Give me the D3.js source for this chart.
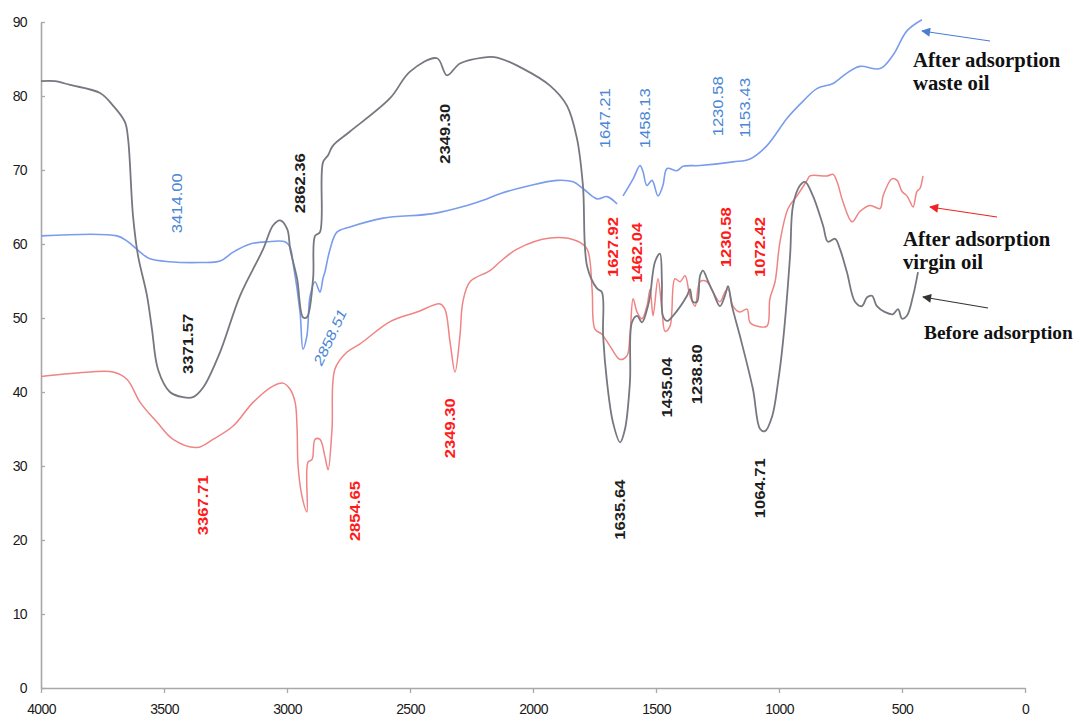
<!DOCTYPE html>
<html>
<head>
<meta charset="utf-8">
<script src="https://cdn.jsdelivr.net/npm/d3@7"></script>
<style>
  html, body { margin: 0; padding: 0; background: #fff; }
  svg { display: block; }
</style>
</head>
<body>
<svg id="chart" width="1081" height="723"></svg>
<script>
// FTIR spectra: transmittance (%) versus wavenumber (cm-1)

// Before adsorption
const beforeWn = [4000,3943,3882,3760,3707,3659,3646,3626,3606,3569,3549,3524,3476,3423,3382,3341,3272,3191,3097,3057,3028,2999,2987,2959,2935,2919,2894,2886,2866,2854,2833,2813,2744,2581,2500,2390,2350,2297,2203,2146,2041,1931,1862,1821,1797,1780,1740,1720,1715,1699,1675,1646,1626,1606,1598,1577,1557,1533,1524,1504,1484,1476,1472,1455,1431,1374,1362,1350,1333,1321,1309,1289,1268,1240,1220,1207,1191,1159,1106,1077,1057,1028,1004,984,955,943,915,894,862,821,801,772,752,724,691,663,642,622,602,569,537,516,500,480,455,435];
const beforeT  = [82.0,82.0,81.5,80.4,78.7,76.5,74.2,63.8,58.5,53.0,48.5,43.0,40.0,39.3,39.3,40.6,45.4,53.0,59.3,62.5,63.2,62.0,59.3,55.3,50.1,50.1,55.3,61.1,61.6,71.0,72.0,73.3,75.2,79.7,83.3,85.1,82.8,84.4,85.2,85.2,83.7,81.4,78.7,74.2,67.9,57.0,54.0,53.5,47.6,41.3,35.9,33.2,35.0,41.3,49.4,50.3,49.4,51.6,53.0,57.6,58.7,54.9,50.3,49.6,50.3,53.0,53.9,52.2,52.2,55.7,56.4,55.0,53.5,51.6,53.0,54.3,51.6,47.6,40.4,35.0,34.7,36.7,41.3,46.7,58.4,65.2,67.9,68.4,66.5,62.5,60.3,60.7,59.3,56.2,52.2,51.6,52.8,53.0,51.6,50.8,50.5,51.2,49.9,50.3,53.0,56.2];

// After adsorption, virgin oil
const virginWn = [4000,3801,3707,3650,3597,3528,3463,3366,3301,3219,3138,3057,3016,2988,2967,2959,2955,2939,2919,2915,2898,2886,2866,2846,2833,2817,2805,2756,2703,2581,2472,2378,2358,2337,2317,2297,2285,2256,2175,2134,2065,1931,1821,1780,1760,1748,1720,1687,1646,1618,1606,1593,1577,1557,1537,1524,1512,1492,1476,1463,1443,1423,1402,1382,1362,1341,1321,1293,1268,1240,1220,1207,1187,1159,1130,1118,1089,1049,1037,1016,996,963,927,886,874,805,780,764,740,703,671,630,589,577,541,520,500,480,467,455,439,427,415];
const virginT  = [42.1,42.7,42.7,41.7,38.6,35.9,33.6,32.5,33.6,35.4,38.6,40.8,41.2,40.4,38.6,35.0,30.0,25.9,23.8,30.5,30.9,33.6,33.6,31.3,29.5,35.0,43.1,45.4,46.5,49.5,50.8,51.9,51.2,46.7,42.7,47.6,52.2,54.9,56.4,57.6,59.3,60.8,60.4,59.3,54.0,48.5,47.8,46.2,44.4,44.9,47.6,52.6,50.8,49.9,51.6,53.9,50.3,55.3,51.2,48.2,48.9,55.3,54.9,55.7,53.0,51.6,54.9,54.9,53.5,52.2,53.5,53.9,51.6,50.8,51.2,49.4,48.9,48.9,52.6,54.9,60.3,64.8,66.5,68.6,69.2,69.2,69.4,68.4,65.7,63.0,64.4,65.2,64.8,66.5,68.8,68.6,67.1,66.5,65.7,65.0,67.1,67.5,69.2];

// After adsorption, waste oil (null marks the short break in the recorded trace)
const wasteWn = [4000,3691,3650,3597,3557,3476,3354,3272,3219,3150,3081,3008,2988,2976,2947,2935,2919,2906,2886,2866,2854,2846,2825,2797,2744,2610,2406,2268,2203,2134,2024,1902,1837,1797,1740,1699,1658,1646,1634,1593,1565,1553,1537,1516,1492,1472,1455,1415,1390,1321,1187,1118,1049,967,902,846,780,724,671,589,537,480,419];
const wasteT  = [61.1,61.1,60.4,58.9,58.0,57.6,57.5,57.7,58.9,60.0,60.3,60.3,59.6,57.6,50.8,45.8,47.6,53.0,54.9,53.5,55.3,56.2,59.3,61.6,62.3,63.5,64.1,65.2,65.9,66.8,67.8,68.6,68.4,67.5,66.1,66.4,65.4,null,66.5,68.8,70.6,69.8,67.9,68.6,66.5,67.9,70.2,69.9,70.5,70.6,71.1,71.5,73.3,77.0,79.3,81.0,81.7,83.1,84.0,83.7,85.5,88.8,90.3];

// Axis ticks
const xTicks = [4000,3500,3000,2500,2000,1500,1000,500,0];
const yTicks = [0,10,20,30,40,50,60,70,80,90];

// Peak annotations: text, spectrum, anchor (cm-1, %T)
const peakText   = ["3414.00","2862.36","3371.57","2858.51","3367.71","2854.65","2349.30","2349.30","1647.21","1458.13","1230.58","1153.43","1627.92","1462.04","1230.58","1072.42","1435.04","1238.80","1635.64","1064.71"];
const peakSeries = ["waste","before","before","waste","virgin","virgin","virgin","before","waste","waste","waste","waste","virgin","virgin","virgin","virgin","before","before","before","before"];
const peakAnchorWn = [3447,2947,3402,2825,3341,2724,2337,2358,1707,1545,1248,1138,1675,1577,1215,1077,1455,1333,1646,1077];
const peakAnchorT  = [65.5,68.2,46.5,47.4,24.7,23.9,35.1,74.9,77.0,77.0,78.6,78.4,59.6,58.8,60.9,59.6,40.6,42.4,24.1,27.0];

// Series legend captions
const legendLines = {
  waste:  ["After adsorption", "waste oil"],
  virgin: ["After adsorption", "virgin oil"],
  before: ["Before adsorption"]
};

const lineColor  = { before: "#76787f", virgin: "#f08484", waste: "#7a9cee" };
const labelColor = { before: "#1e1e1e", virgin: "#ff1a1a", waste: "#4a86d4" };
const arrowColor = { before: "#333333", virgin: "#ee2222", waste: "#4a7fd0" };

const svg = d3.select("#chart");

const x = d3.scaleLinear().domain([4000, 0]).range([41, 1025]);
const y = d3.scaleLinear().domain([0, 90]).range([688, 22]);

// Axes
const axisColor = "#a8a8a8";
const xAxis = svg.append("g")
  .attr("transform", `translate(0,${y(0)})`)
  .call(d3.axisBottom(x).tickValues(xTicks).tickSize(5).tickSizeOuter(0).tickFormat(d3.format("d")));
const yAxis = svg.append("g")
  .attr("transform", `translate(${x(4000)},0)`)
  .call(d3.axisLeft(y).tickValues(yTicks).tickSize(-4).tickSizeOuter(0).tickFormat(d3.format("d")));

[xAxis, yAxis].forEach(g => {
  g.select(".domain").attr("stroke", axisColor).attr("stroke-width", 1.6);
  g.selectAll(".tick line").attr("stroke", axisColor).attr("stroke-width", 1.3);
  g.selectAll(".tick text")
    .attr("fill", "#1a1a1a")
    .style("font-family", "'Liberation Sans', Arial, sans-serif")
    .style("font-size", "14px")
    .style("letter-spacing", "-0.6px");
});
xAxis.selectAll(".tick text").attr("dy", "1.25em");
yAxis.selectAll(".tick text").attr("x", -14);

// Spectra
const line = d3.line()
  .defined(d => d[1] !== null)
  .x(d => x(d[0]))
  .y(d => y(d[1]))
  .curve(d3.curveCatmullRom.alpha(0.5));

const spectra = [
  { key: "virgin", wn: virginWn, t: virginT, w: 1.5 },
  { key: "waste",  wn: wasteWn,  t: wasteT,  w: 1.6 },
  { key: "before", wn: beforeWn, t: beforeT, w: 1.8 }
];

svg.append("g").selectAll("path")
  .data(spectra)
  .join("path")
  .attr("d", s => line(s.wn.map((w, i) => [w, s.t[i]])))
  .attr("fill", "none")
  .attr("stroke", s => lineColor[s.key])
  .attr("stroke-width", s => s.w)
  .attr("stroke-linejoin", "round");

// Peak labels (rotated, reading upward)
const peaks = peakText.map((t, i) => ({
  text: t, series: peakSeries[i], wn: peakAnchorWn[i], tv: peakAnchorT[i],
  angle: t === "2858.51" && peakSeries[i] === "waste" ? -65 : -90
}));

svg.append("g").selectAll("text")
  .data(peaks)
  .join("text")
  .attr("transform", d => `translate(${x(d.wn)},${y(d.tv)}) rotate(${d.angle})`)
  .attr("text-anchor", "middle")
  .attr("dy", "0.35em")
  .attr("fill", d => labelColor[d.series])
  .style("font-family", "'Liberation Sans', Arial, sans-serif")
  .style("font-size", "14px")
  .style("font-weight", d => d.series === "waste" ? "normal" : "bold")
  .style("font-style", d => d.angle !== -90 ? "italic" : "normal")
  .attr("textLength", 60)
  .attr("lengthAdjust", "spacingAndGlyphs")
  .text(d => d.text);

// Arrows pointing from captions to the spectrum ends
const defs = svg.append("defs");
Object.keys(arrowColor).forEach(k => {
  defs.append("marker")
    .attr("id", "head-" + k)
    .attr("viewBox", "0 0 10 10")
    .attr("refX", 9).attr("refY", 5)
    .attr("markerWidth", 10).attr("markerHeight", 9)
    .attr("markerUnits", "userSpaceOnUse")
    .attr("orient", "auto")
    .append("path")
    .attr("d", "M0,0 L10,5 L0,10 Z")
    .attr("fill", arrowColor[k]);
});

const arrows = [
  { key: "waste",  from: [990, 41],  to: [922, 31] },
  { key: "virgin", from: [997, 217], to: [930, 207] },
  { key: "before", from: [988, 308], to: [923, 297] }
];
svg.append("g").selectAll("line")
  .data(arrows)
  .join("line")
  .attr("x1", d => d.from[0]).attr("y1", d => d.from[1])
  .attr("x2", d => d.to[0]).attr("y2", d => d.to[1])
  .attr("stroke", d => arrowColor[d.key])
  .attr("stroke-width", 1.2)
  .attr("marker-end", d => `url(#head-${d.key})`);

// Captions (the lowest one is set a touch smaller so it stays inside the frame)
const captions = [
  { key: "waste",  x: 913, y: 67,  size: 20.7 },
  { key: "virgin", x: 903, y: 246, size: 20.7 },
  { key: "before", x: 924, y: 339, size: 19.4 }
];
const cap = svg.append("g").selectAll("text")
  .data(captions)
  .join("text")
  .attr("x", d => d.x).attr("y", d => d.y)
  .attr("fill", "#111")
  .style("font-family", "'Liberation Serif', 'Times New Roman', serif")
  .style("font-size", d => d.size + "px")
  .style("font-weight", "bold");
cap.selectAll("tspan")
  .data(d => legendLines[d.key].map(t => ({ t, x: d.x })))
  .join("tspan")
  .attr("x", d => d.x)
  .attr("dy", (d, i) => i === 0 ? 0 : 23)
  .text(d => d.t);
</script>
</body>
</html>
